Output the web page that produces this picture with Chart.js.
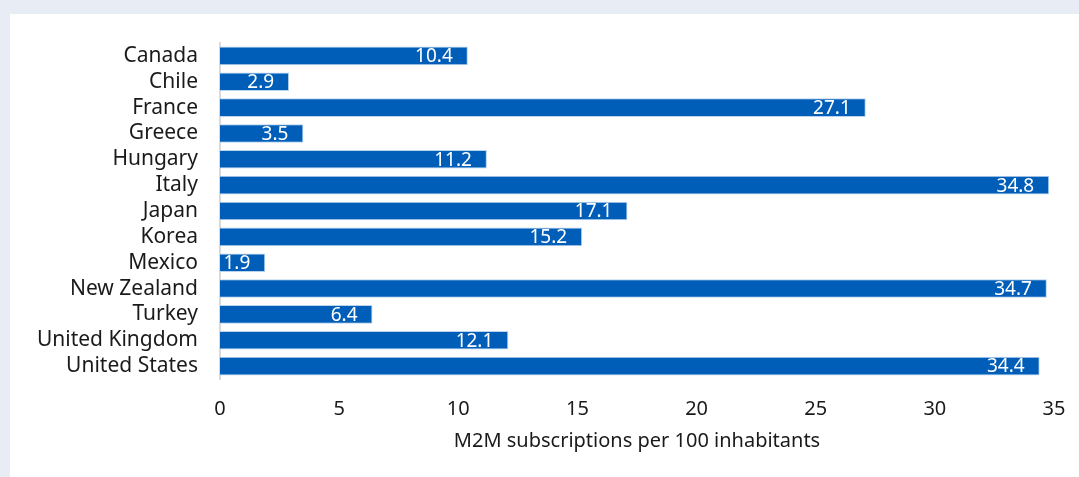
<!DOCTYPE html>
<html>
<head>
<meta charset="utf-8">
<script src="https://cdn.jsdelivr.net/npm/chart.js@4.4.0/dist/chart.umd.min.js"></script>
<style>
  html, body { margin: 0; padding: 0; }
  body { width: 1079px; height: 477px; background: #e8ecf4; position: relative; overflow: hidden; }
  .panel { position: absolute; left: 10px; top: 14px; width: 1069px; height: 463px; background: #fff; }
  canvas { display: block; }
</style>
</head>
<body>
<div class="panel"><canvas id="chart" width="1069" height="463"></canvas></div>
<script>
const countries = ['Canada', 'Chile', 'France', 'Greece', 'Hungary', 'Italy', 'Japan', 'Korea',
  'Mexico', 'New Zealand', 'Turkey', 'United Kingdom', 'United States'];
const subscriptions = [10.4, 2.9, 27.1, 3.5, 11.2, 34.8, 17.1, 15.2, 1.9, 34.7, 6.4, 12.1, 34.4];
const xTicks = [0, 5, 10, 15, 20, 25, 30, 35];

const FONT = '"Noto Sans", sans-serif';

// white value labels drawn inside the end of each bar
const valueLabels = {
  id: 'valueLabels',
  afterDatasetsDraw(chart) {
    const ctx = chart.ctx;
    const meta = chart.getDatasetMeta(0);
    ctx.save();
    ctx.font = '19px ' + FONT;
    ctx.fillStyle = '#ffffff';
    ctx.textAlign = 'right';
    ctx.textBaseline = 'middle';
    meta.data.forEach((bar, i) => {
      ctx.fillText(subscriptions[i].toFixed(1), bar.x - 15, bar.y + 1);
    });
    ctx.restore();
  }
};

new Chart(document.getElementById('chart'), {
  type: 'bar',
  data: {
    labels: countries,
    datasets: [{
      data: subscriptions,
      backgroundColor: '#005eb8',
      borderColor: '#b9d3ee',
      borderWidth: 1,
      borderSkipped: 'start',
      barPercentage: 0.72,
      categoryPercentage: 1,
    }],
  },
  plugins: [valueLabels],
  options: {
    indexAxis: 'y',
    responsive: false,
    animation: false,
    layout: { padding: { top: 29, right: 25, left: 0, bottom: 24 } },
    plugins: {
      legend: { display: false },
      tooltip: { enabled: false },
    },
    scales: {
      x: {
        min: 0,
        max: 35,
        afterBuildTicks: scale => { scale.ticks = xTicks.map(v => ({ value: v })); },
        afterFit: scale => { scale.paddingRight = 0; scale.paddingLeft = 0; },
        grid: { display: false, drawTicks: false },
        border: { display: false },
        ticks: { color: '#1a1a1a', font: { family: FONT, size: 20 }, padding: 18 },
        title: {
          display: true,
          text: 'M2M subscriptions per 100 inhabitants',
          color: '#1a1a1a',
          font: { family: FONT, size: 20 },
          padding: { top: -10, bottom: 0 },
        },
      },
      y: {
        afterFit: scale => { scale.width = 210; scale.paddingTop = 0; scale.paddingBottom = 0; },
        grid: { display: false, drawTicks: false },
        border: { display: true, color: '#d9d9d9', width: 2 },
        ticks: {
          color: '#1a1a1a', font: { family: FONT, size: 21 }, padding: 22,
          autoSkip: false,
        },
      },
    },
  },
});
</script>
</body>
</html>
